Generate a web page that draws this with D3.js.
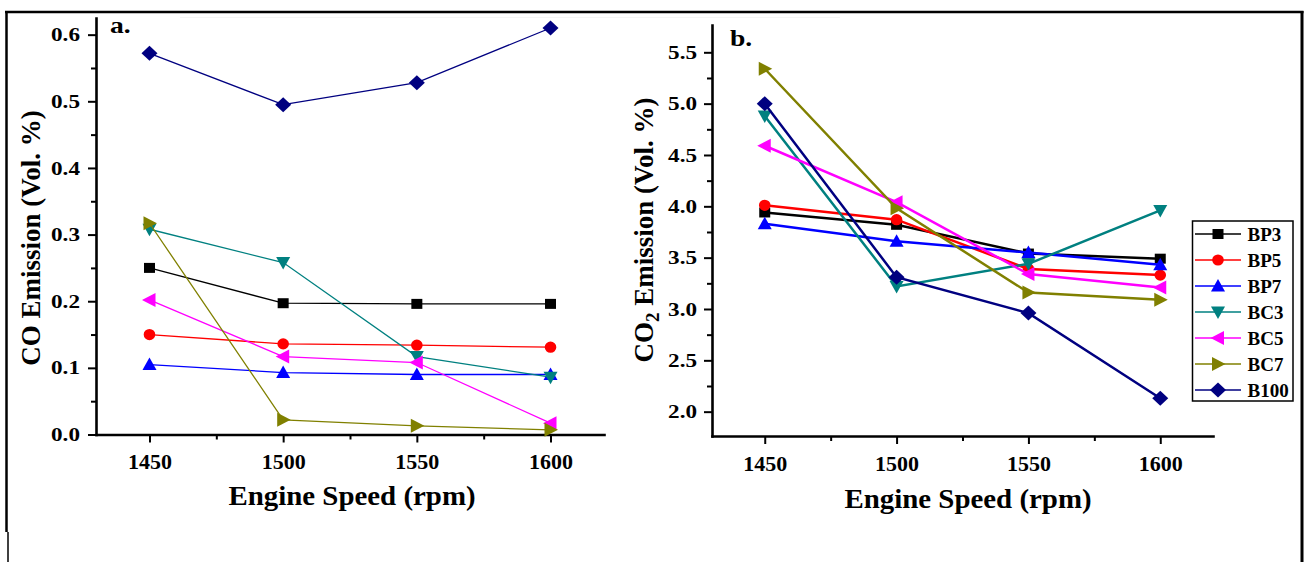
<!DOCTYPE html>
<html><head><meta charset="utf-8">
<script src="https://cdn.jsdelivr.net/npm/d3@7"></script>
<style>
html,body{margin:0;padding:0;background:#fff;}
svg{display:block;}
text{font-family:"Liberation Serif","Times New Roman",serif;font-weight:bold;fill:#000;}
</style>
</head><body>
<svg id="chart" width="1305" height="562"></svg>
<script>
// ---------- data ----------
const speeds = [1450, 1500, 1550, 1600];
const seriesNames = ["BP3", "BP5", "BP7", "BC3", "BC5", "BC7", "B100"];
const seriesColors = ["#000000", "#ff0000", "#0000ff", "#008080", "#ff00ff", "#808000", "#000080"];
const seriesMarkers = ["square", "circle", "triangleUp", "triangleDown", "triangleLeft", "triangleRight", "diamond"];

// Panel a: CO emission (Vol. %)
const coBP3  = [0.250, 0.197, 0.196, 0.196];
const coBP5  = [0.150, 0.136, 0.134, 0.131];
const coBP7  = [0.105, 0.093, 0.090, 0.090];
const coBC3  = [0.308, 0.258, 0.117, 0.086];
const coBC5  = [0.202, 0.117, 0.108, 0.017];
const coBC7  = [0.317, 0.022, 0.013, 0.007];
const coB100 = [0.572, 0.495, 0.528, 0.610];

// Panel b: CO2 emission (Vol. %)
const co2BP3  = [3.94, 3.82, 3.54, 3.49];
const co2BP5  = [4.01, 3.87, 3.39, 3.33];
const co2BP7  = [3.83, 3.66, 3.55, 3.43];
const co2BC3  = [4.88, 3.22, 3.44, 3.96];
const co2BC5  = [4.59, 4.04, 3.34, 3.21];
const co2BC7  = [5.34, 3.98, 3.16, 3.09];
const co2B100 = [5.00, 3.31, 2.96, 2.13];

const coTicks = [0.0, 0.1, 0.2, 0.3, 0.4, 0.5, 0.6];
const coMinor = [0.05, 0.15, 0.25, 0.35, 0.45, 0.55];
const co2Ticks = [2.0, 2.5, 3.0, 3.5, 4.0, 4.5, 5.0, 5.5];
const co2Minor = [2.25, 2.75, 3.25, 3.75, 4.25, 4.75, 5.25];
const xTicks = [1450, 1500, 1550, 1600];
const xMinor = [1475, 1525, 1575];

const coSeries = [coBP3, coBP5, coBP7, coBC3, coBC5, coBC7, coB100];
const co2Series = [co2BP3, co2BP5, co2BP7, co2BC3, co2BC5, co2BC7, co2B100];

// ---------- drawing ----------
const svg = d3.select("#chart");

function markerPath(type) {
  switch (type) {
    case "square": return "M-5.5,-5H5.5V5H-5.5Z";
    case "circle": return "M-5.8,0A5.8,5.6 0 1,0 5.8,0A5.8,5.6 0 1,0 -5.8,0Z";
    case "triangleUp": return "M0,-7L7,5.5L-7,5.5Z";
    case "triangleDown": return "M0,7L7,-5.5L-7,-5.5Z";
    case "triangleLeft": return "M-7.5,0L6,-7L6,7Z";
    case "triangleRight": return "M7.5,0L-6,-7L-6,7Z";
    case "diamond": return "M0,-7.5L8,0L0,7.5L-8,0Z";
  }
}

// frame
svg.append("line").attr("x1", 5).attr("x2", 1303.5).attr("y1", 12).attr("y2", 12)
  .attr("stroke", "#000").attr("stroke-width", 2.5);
svg.append("line").attr("x1", 6.5).attr("x2", 6.5).attr("y1", 11).attr("y2", 532)
  .attr("stroke", "#000").attr("stroke-width", 2.5);
svg.append("line").attr("x1", 8).attr("x2", 8).attr("y1", 532).attr("y2", 562)
  .attr("stroke", "#000").attr("stroke-width", 1.5);
svg.append("line").attr("x1", 1302).attr("x2", 1302).attr("y1", 11).attr("y2", 562)
  .attr("stroke", "#000").attr("stroke-width", 3);
svg.append("line").attr("x1", 180).attr("x2", 840).attr("y1", 17.5).attr("y2", 17.5)
  .attr("stroke", "#f5f5f5").attr("stroke-width", 1);

function drawPanel(cfg) {
  const x = d3.scaleLinear().domain([1430, 1620]).range(cfg.xRange);
  const y = d3.scaleLinear().domain(cfg.yDomain).range(cfg.yRange);
  const g = svg.append("g");

  // x axis
  const xAxisG = g.append("g").attr("transform", `translate(0,${cfg.yRange[0]})`);
  xAxisG.append("g").call(d3.axisBottom(x).tickValues(xMinor).tickSize(5).tickSizeOuter(0).tickFormat(""))
    .call(s => s.select(".domain").remove());
  xAxisG.append("g").call(d3.axisBottom(x).tickValues(xTicks).tickSize(8).tickSizeOuter(0)
      .tickPadding(11).tickFormat(d3.format("d")));
  xAxisG.selectAll("text").style("font-size", "22px").attr("fill", "#000");

  // y axis
  const yAxisG = g.append("g").attr("transform", `translate(${cfg.xRange[0]},0)`);
  yAxisG.append("g").call(d3.axisLeft(y).tickValues(cfg.yMinor).tickSize(5).tickSizeOuter(0).tickFormat(""))
    .call(s => s.select(".domain").remove());
  yAxisG.append("g").call(d3.axisLeft(y).tickValues(cfg.yTicks).tickSize(8).tickSizeOuter(0)
      .tickFormat(d3.format(".1f")));
  const ys = 1.22;
  yAxisG.selectAll("text").style("font-size", "19px").attr("fill", "#000")
    .attr("x", -cfg.yLabelGap / ys).attr("transform", `scale(${ys},1)`);

  g.selectAll(".domain").attr("stroke", "#000").attr("stroke-width", 2.6).attr("stroke-linecap", "square");
  g.selectAll(".tick line").attr("stroke", "#000").attr("stroke-width", 2);

  // series
  cfg.series.forEach((vals, i) => {
    const pts = speeds.map((s, j) => [x(s), y(vals[j])]);
    g.append("path").attr("d", d3.line()(pts)).attr("fill", "none")
      .attr("stroke", seriesColors[i]).attr("stroke-width", cfg.lineWidth);
    g.selectAll(null).data(pts).enter().append("path")
      .attr("d", markerPath(seriesMarkers[i]))
      .attr("transform", d => `translate(${d[0]},${d[1]})`)
      .attr("fill", seriesColors[i]);
  });

  // panel label
  g.append("text").attr("x", cfg.label[1] / 1.15).attr("y", cfg.label[2])
    .attr("transform", "scale(1.15,1)").style("font-size", "24px").text(cfg.label[0]);

  // x title
  const cx = cfg.xTitle[0];
  g.append("text").attr("x", 0).attr("y", 0)
    .attr("transform", `translate(${cx},${cfg.xTitle[1]}) scale(1.07,1)`)
    .attr("text-anchor", "middle").style("font-size", "27px").text("Engine Speed (rpm)");

  // y title
  const yt = g.append("text").attr("transform", `translate(${cfg.yTitle[0]},${cfg.yTitle[1]}) rotate(-90)`)
    .attr("text-anchor", "middle").attr("dy", "0.35em").style("font-size", "27px");
  cfg.yTitleParts(yt);
  return { x, y, g };
}

drawPanel({
  xRange: [96, 604], yRange: [434.5, 18], yDomain: [0, 0.625],
  yTicks: coTicks, yMinor: coMinor, yLabelGap: 16,
  series: coSeries, lineWidth: 1.3,
  label: ["a.", 110, 33],
  xTitle: [352, 505], yTitle: [30.5, 238],
  yTitleParts: t => t.text("CO Emission (Vol. %)")
});

drawPanel({
  xRange: [712, 1213], yRange: [436, 25], yDomain: [1.763, 5.766],
  yTicks: co2Ticks, yMinor: co2Minor, yLabelGap: 15,
  series: co2Series, lineWidth: 2.5,
  label: ["b.", 730, 46.5],
  xTitle: [968, 508], yTitle: [643.5, 230],
  yTitleParts: t => {
    t.append("tspan").text("CO");
    t.append("tspan").attr("dy", 6).style("font-size", "19px").text("2");
    t.append("tspan").attr("dy", -6).text(" Emission (Vol. %)");
  }
});

// legend
const legend = svg.append("g");
legend.append("rect").attr("x", 1192.5).attr("y", 221).attr("width", 100.5).attr("height", 180)
  .attr("fill", "#fff").attr("stroke", "#000").attr("stroke-width", 1.5);
const legendY = d3.scalePoint().domain(seriesNames).range([234, 390]);
seriesNames.forEach((name, i) => {
  const yy = legendY(name);
  legend.append("line").attr("x1", 1195).attr("x2", 1241).attr("y1", yy).attr("y2", yy)
    .attr("stroke", seriesColors[i]).attr("stroke-width", 1.5);
  legend.append("path").attr("d", markerPath(seriesMarkers[i]))
    .attr("transform", `translate(1218,${yy})`).attr("fill", seriesColors[i]);
  legend.append("text").attr("x", 1247.5).attr("y", yy).attr("dy", "0.35em")
    .style("font-size", "19px").text(name);
});
</script>
</body></html>
